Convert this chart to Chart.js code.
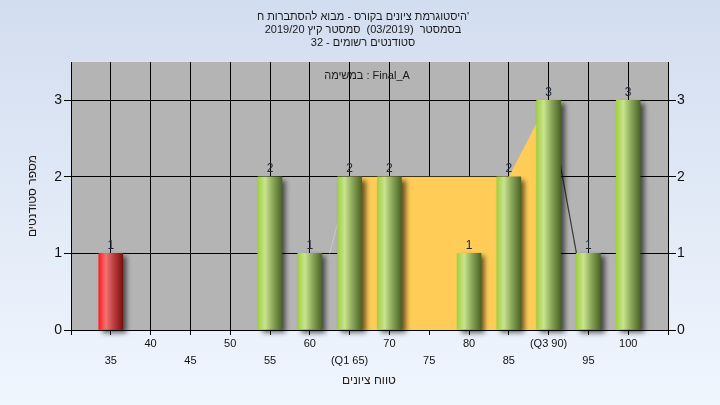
<!DOCTYPE html>
<html><head><meta charset="utf-8">
<script src="https://cdn.jsdelivr.net/npm/chart.js@4.4.0/dist/chart.umd.min.js"></script>
<style>
html,body{margin:0;padding:0;width:720px;height:405px;overflow:hidden;background:linear-gradient(#d2ddef,#f0f6fe);}
#wrap{position:relative;width:720px;height:405px;}
canvas{display:block;}
</style></head><body>
<div id="wrap"><canvas id="c" width="720" height="405"></canvas></div>
<script>
const titleLines = ["היסטוגרמת ציונים בקורס - מבוא להסתברות ח'", "בסמסטר  (03/2019)  סמסטר קיץ 2019/20", "סטודנטים רשומים - 32"];
const subtitle = "במשימה : Final_A";
const xTitle = "טווח ציונים";
const yTitle = "מספר סטודנטים";
const grades = [35, 40, 45, 50, 55, 60, 65, 70, 75, 80, 85, 90, 95, 100];
const counts = [1, 0, 0, 0, 2, 1, 2, 2, 0, 1, 2, 3, 1, 3];
const xLabels = ["35", "40", "45", "50", "55", "60", "(Q1 65)", "70", "75", "80", "85", "(Q3 90)", "95", "100"];
const failing = [true, false, false, false, false, false, false, false, false, false, false, false, false, false];
const iqrX = [65, 85, 90];
const iqrY = [2, 2, 3];
const lineAX = [62.5, 65];
const lineAY = [1, 2];
const lineBX = [90, 93.5];
const lineBY = [3, 1];
const yTicks = [0, 1, 2, 3];
const xMin = 30, xMax = 105, yMax = 3.5;

const FONT = "'Liberation Sans', Arial, sans-serif";

function barGradient(ctx) {
  const chart = ctx.chart;
  const solid = failing[ctx.dataIndex] ? '#d03030' : '#9cba5c';
  if (ctx.type !== 'data' || !chart.scales || !chart.scales.x) return solid;
  const x = chart.scales.x.getPixelForValue(ctx.raw.x);
  if (!isFinite(x)) return solid;
  const g = chart.ctx.createLinearGradient(x - 12, 0, x + 12, 0);
  if (failing[ctx.dataIndex]) {
    g.addColorStop(0, '#ff1c1c');
    g.addColorStop(0.3, '#f07474');
    g.addColorStop(0.6, '#c04040');
    g.addColorStop(1, '#7a1010');
  } else {
    g.addColorStop(0, '#a2d042');
    g.addColorStop(0.3, '#c9e48e');
    g.addColorStop(0.6, '#8eaa5c');
    g.addColorStop(1, '#4a6424');
  }
  return g;
}

const bgPlugin = {
  id: 'bg',
  beforeDraw(chart) {
    const {ctx, chartArea: a} = chart;
    ctx.save();
    ctx.fillStyle = '#b4b4b4';
    ctx.fillRect(a.left, a.top, a.right - a.left, a.bottom - a.top);
    ctx.restore();
  },
  beforeDatasetDraw(chart, args) {
    if (args.index === 0) {
      const ctx = chart.ctx;
      ctx.save();
      ctx.shadowColor = 'rgba(0,0,0,0.6)';
      ctx.shadowBlur = 5;
      ctx.shadowOffsetX = 4;
      ctx.shadowOffsetY = 3;
    }
  },
  afterDatasetDraw(chart, args) {
    if (args.index === 0) chart.ctx.restore();
  },
  afterDatasetsDraw(chart) {
    const ctx = chart.ctx;
    const meta = chart.getDatasetMeta(0);
    ctx.save();
    ctx.font = '12px ' + FONT;
    ctx.fillStyle = '#1c2438';
    ctx.textAlign = 'center';
    ctx.textBaseline = 'bottom';
    meta.data.forEach((el, i) => {
      if (counts[i] > 0) ctx.fillText(String(counts[i]), el.x, el.y - 2);
    });
    ctx.restore();
  },
  afterDraw(chart) {
    const ctx = chart.ctx;
    ctx.save();
    ctx.fillStyle = '#1a1a1a';
    ctx.font = '11px ' + FONT;
    ctx.textAlign = 'center';
    ctx.textBaseline = 'middle';
    ctx.direction = 'ltr';
    titleLines.forEach((t, i) => ctx.fillText(t, 363, 17 + i * 13));
    ctx.fillText(subtitle, 367, 76);
    ctx.font = '12px ' + FONT;
    ctx.fillStyle = '#241a14';
    ctx.fillText(xTitle, 369, 381);
    ctx.translate(33, 196);
    ctx.rotate(-Math.PI / 2);
    ctx.fillText(yTitle, 0, 0);
    ctx.restore();
  }
};

const yScaleBase = {
  type: 'linear', min: 0, max: yMax,
  afterBuildTicks: s => { s.ticks = yTicks.map(v => ({value: v})); },
  ticks: {font: {family: FONT, size: 14}, color: '#111', callback: v => String(v)},
  border: {color: '#000', width: 1}
};

const chart = new Chart(document.getElementById('c'), {
  type: 'bar',
  data: {
    datasets: [
      {
        type: 'bar',
        data: grades.map((g, i) => ({x: g, y: counts[i] > 0 ? counts[i] : null})),
        backgroundColor: barGradient,
        borderWidth: 0,
        barThickness: 24,
        clip: false,
        order: 0
      },
      {
        type: 'line',
        data: iqrX.map((x, i) => ({x: x, y: iqrY[i]})),
        fill: 'origin',
        backgroundColor: '#ffcd57',
        borderWidth: 0,
        borderColor: 'rgba(0,0,0,0)',
        pointRadius: 0,
        tension: 0,
        order: 3
      },
      {
        type: 'line',
        data: lineAX.map((x, i) => ({x: x, y: lineAY[i]})),
        fill: false,
        borderColor: '#c8c8c8',
        borderWidth: 1,
        pointRadius: 0,
        order: 2
      },
      {
        type: 'line',
        data: lineBX.map((x, i) => ({x: x, y: lineBY[i]})),
        fill: false,
        borderColor: '#3a3a3a',
        borderWidth: 1.2,
        pointRadius: 0,
        order: 2
      }
    ]
  },
  plugins: [bgPlugin],
  options: {
    responsive: false,
    animation: false,
    devicePixelRatio: 1,
    layout: {padding: {top: 62, left: 0, right: 0, bottom: 0}},
    plugins: {legend: {display: false}, tooltip: {enabled: false}, title: {display: false}},
    scales: {
      x: {
        type: 'linear', min: xMin, max: xMax, position: 'bottom', offset: false,
        afterBuildTicks: s => { const t = []; for (let v = xMin; v <= xMax; v += 5) t.push({value: v}); s.ticks = t; },
        ticks: {
          autoSkip: false, maxRotation: 0, minRotation: 0, padding: 1,
          font: {family: FONT, size: 11, lineHeight: 1.5}, color: '#111',
          callback: v => { const i = grades.indexOf(v); if (i < 0) return ['', '']; return i % 2 === 0 ? ['', xLabels[i]] : [xLabels[i], '']; }
        },
        grid: {color: '#000', lineWidth: 1, tickLength: 5, offset: false},
        border: {color: '#000', width: 1},
        afterFit: s => { s.height = 75; }
      },
      y: Object.assign({}, yScaleBase, {
        position: 'left',
        ticks: Object.assign({}, yScaleBase.ticks, {padding: 2}),
        grid: {color: '#000', lineWidth: 1, tickLength: 7},
        afterFit: s => { s.width = 71; }
      }),
      y2: Object.assign({}, yScaleBase, {
        position: 'right',
        ticks: Object.assign({}, yScaleBase.ticks, {padding: 1}),
        grid: {color: '#000', lineWidth: 1, tickLength: 8, drawOnChartArea: false},
        afterFit: s => { s.width = 52; }
      })
    }
  }
});
chart.update();
</script>
</body></html>
